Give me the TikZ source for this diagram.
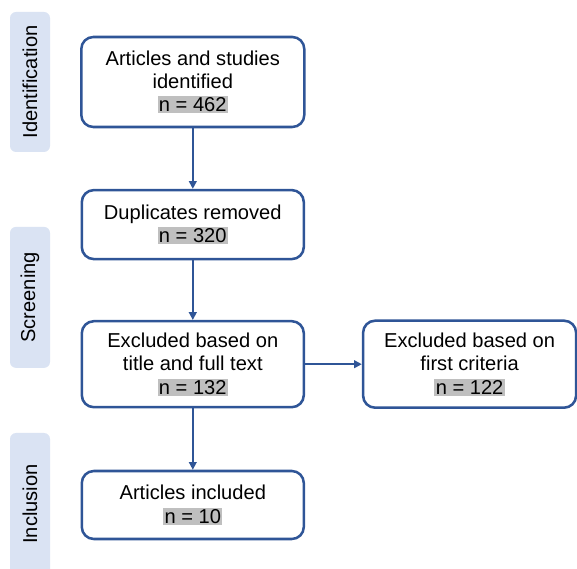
\documentclass[tikz,border=0pt]{standalone}
\usepackage{fontspec}
\setmainfont{Liberation Sans}
\usepackage{xcolor}
\usetikzlibrary{arrows.meta,positioning}
\definecolor{boxblue}{HTML}{2F5597}
\definecolor{stagefill}{HTML}{DAE3F3}
\definecolor{hlgray}{HTML}{BFBFBF}
\newcommand{\nhl}[1]{{\setlength{\fboxsep}{1pt}\colorbox{hlgray}{#1}}}

\begin{document}
\begin{tikzpicture}[>={Triangle[width=5.5pt,length=5.5pt]},
  box/.style={draw=boxblue,line width=1.8pt,rounded corners=0.3cm,fill=white,
    align=center,inner sep=0pt,font=\fontsize{14.3}{16.6}\selectfont},
  stage/.style={fill=stagefill,rounded corners=0.15cm,minimum width=1cm,inner sep=0pt},
  stagetext/.style={rotate=90,font=\fontsize{14.3}{16.6}\selectfont},
  arr/.style={->,boxblue,line width=1.2pt}]
  \useasboundingbox (0,0) rectangle (14.425,14.225);
  % stages on the left
  \node[stage,minimum height=3.5cm] (identstage) at (0.75,12.175) {};
  \node[stagetext] at (identstage) {Identification};
  \node[stage,minimum height=3.525cm] (screenstage) at (0.75,6.79) {};
  \node[stagetext] at (screenstage) {Screening};
  \node[stage,minimum height=3.55cm] (inclstage) at (0.75,1.625) {};
  \node[stagetext] at (inclstage) {Inclusion};
  % flow boxes
  \node[box,minimum width=5.575cm,minimum height=2.25cm] (found) at (4.82,12.175)
    {Articles and studies\\identified\\\nhl{n = 462}};
  \node[box,minimum width=5.55cm,minimum height=1.725cm] (dupl) at (4.82,8.61)
    {Duplicates removed\\\nhl{n = 320}};
  \node[box,minimum width=5.55cm,minimum height=2.15cm] (title) at (4.82,5.12)
    {Excluded based on\\title and full text\\\nhl{n = 132}};
  \node[box,minimum width=5.325cm,minimum height=2.175cm] (crit) at (11.74,5.12)
    {Excluded based on\\first criteria\\\nhl{n = 122}};
  \node[box,minimum width=5.55cm,minimum height=1.7cm] (incl) at (4.82,1.6)
    {Articles included\\\nhl{n = 10}};
  % connectors
  \draw[arr] (found) -- (dupl);
  \draw[arr] (dupl) -- (title);
  \draw[arr] (title) -- (crit);
  \draw[arr] (title) -- (incl);
\end{tikzpicture}
\end{document}
